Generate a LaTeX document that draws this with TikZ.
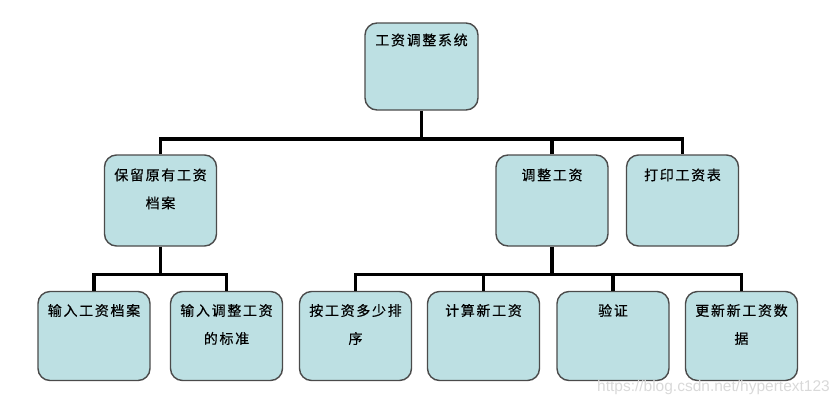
\documentclass[tikz,border=0pt]{standalone}
\usepackage{fontspec}
\newfontfamily\cjk[LetterSpace=12,FakeBold=0.4]{Noto Sans CJK SC}
\newfontfamily\wmfont{Liberation Sans}
\definecolor{boxfill}{RGB}{189,224,227}
\definecolor{boxline}{RGB}{75,75,75}
\tikzset{
  box/.style={draw=boxline, fill=boxfill, line width=1.4pt, rounded corners=12pt,
    minimum width=112pt, minimum height=89pt, inner sep=0pt},
  lab/.style={anchor=north, inner sep=0pt, yshift=-14pt, align=center,
    font=\cjk\fontsize{14}{28}\selectfont},
  conn/.style={draw=black, line width=3.5pt, line join=miter}
}
\begin{document}
\begin{tikzpicture}[x=1pt,y=-1pt]
\useasboundingbox (0,0) rectangle (840,405);
% top
\node[box, minimum height=87pt, minimum width=113pt, label={[lab, yshift=3pt]north:工资调整系统}] (top) at (421.5,66.5) {};
% level 2
\node[box, minimum height=91pt, label={[lab]north:{保留原有工资\\档案}}] (b1) at (160.5,200.5) {};
\node[box, minimum height=91pt, label={[lab]north:调整工资}] (b2) at (552,200.5) {};
\node[box, minimum height=91pt, label={[lab]north:打印工资表}] (b3) at (682.5,200.5) {};
% level 3
\node[box, label={[lab, yshift=1pt]north:输入工资档案}] (c1) at (94,336) {};
\node[box, label={[lab, yshift=1pt]north:{输入调整工资\\的标准}}] (c2) at (226.5,336) {};
\node[box, label={[lab, yshift=1pt]north:{按工资多少排\\序}}] (c3) at (355.5,336) {};
\node[box, label={[lab, yshift=1pt]north:计算新工资}] (c4) at (483.5,336) {};
\node[box, label={[lab, yshift=1pt]north:验证}] (c5) at (613,336) {};
\node[box, label={[lab, yshift=1pt]north:{更新新工资数\\据}}] (c6) at (741.5,336) {};
% junctions
\coordinate (j1) at (421.5,139);
\coordinate (j2) at (160.5,274.5);
\coordinate (j3) at (552,274.5);
% connectors
\draw[conn] (top.south) -- (j1);
\draw[conn] (b1.north) |- (b3.north |- j1) -- (b3.north);
\draw[conn] (b2.north) -- (b2.north |- j1);
\draw[conn] (b1.south) -- (j2);
\draw[conn] (c1.north) |- (c2.north |- j2) -- (c2.north);
\draw[conn] (b2.south) -- (j3);
\draw[conn] (c3.north) |- (c6.north |- j3) -- (c6.north);
\draw[conn] (c4.north) -- (c4.north |- j3);
\draw[conn] (c5.north) -- (c5.north |- j3);
% watermark
\node[anchor=east, text=black!15, font=\wmfont\fontsize{15.5}{17}\selectfont, inner sep=0pt] (wm) at (830,387) {https://blog.csdn.net/hypertext123};
\end{tikzpicture}
\end{document}
